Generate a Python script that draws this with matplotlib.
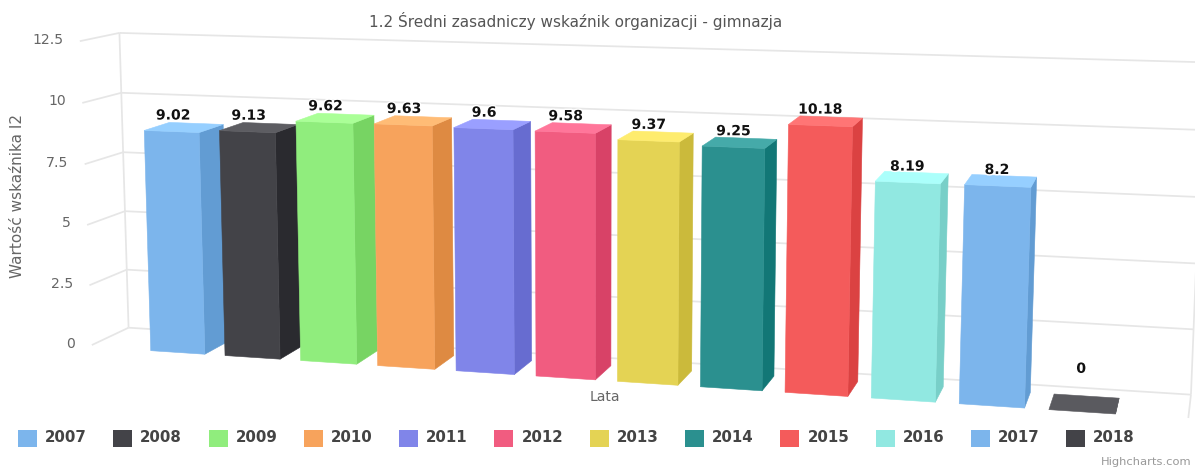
import numpy as np
import matplotlib
matplotlib.use('Agg')
import matplotlib.pyplot as plt
import matplotlib.patheffects as pe

# ---- data ----
years = ['2007','2008','2009','2010','2011','2012','2013','2014','2015','2016','2017','2018']
values = [9.02,9.13,9.62,9.63,9.6,9.58,9.37,9.25,10.18,8.19,8.2,0]
value_labels = ['9.02','9.13','9.62','9.63','9.6','9.58','9.37','9.25','10.18','8.19','8.2','0']
colors = ['#7cb5ec','#434348','#90ed7d','#f7a35c','#8085e9','#f15c80','#e4d354','#2b908f','#f45b5b','#91e8e1','#7cb5ec','#434348']
y_ticks = [0,2.5,5,7.5,10,12.5]
y_tick_labels = ['0','2.5','5','7.5','10','12.5']
title = '1.2 Średni zasadniczy wskaźnik organizacji - gimnazja'
y_title = 'Wartość wskaźnika I2'
x_title = 'Lata'

# ---- 3D scale: (category, value, depth) -> picture pixels ----
CAMERA = np.array([
    [72.16423136869126, -0.9527273437425413, 28.60380581727985, 140.83874001809755],
    [1.6877836240737953, -24.595997969490604, -5.125578167877667, 350.0237227683511],
    [-0.008948735925047585, -0.0016083746400642489, 0.022684025827068344, 1.0]])
BAR_W = 0.73
U_L, U_R = -0.70, 12.65
D_F, D_B = 0.12, 1.52
D_F_RIGHT = 0.05

def proj(u, v, d):
    h = CAMERA @ np.array([u, v, d, 1.0])
    return h[0]/h[2], h[1]/h[2]

def px(n):
    return n*0.72

def shade(c, f):
    r = np.array(matplotlib.colors.to_rgb(c)) + f
    return tuple(np.clip(r, 0, 1))

fig = plt.figure(figsize=(11.95, 4.68), dpi=100)
ax = fig.add_axes([0, 0, 1, 1])
ax.set_xlim(0, 1195); ax.set_ylim(468, 0); ax.axis('off')

GRID = '#e6e6e6'
def seg(a, b):
    ax.plot([a[0], b[0]], [a[1], b[1]], color=GRID, lw=1.25, solid_capstyle='butt', zorder=1)

for t, lab in zip(y_ticks, y_tick_labels):
    back_l = proj(U_L, t, D_B)
    front_l = proj(U_L - 0.015 - 0.002*t, t, D_F)
    seg(front_l, back_l)
    seg(back_l, proj(U_R, t, D_B))
    ax.text(front_l[0]-16.5, front_l[1]-1.5, lab, ha='right', va='center',
            fontsize=px(14), color='#666666', zorder=2)
seg(proj(U_L, 0, D_B), proj(U_L, 12.5, D_B))
seg(proj(U_R, 0, D_B), proj(U_R, 12.5, D_B))
seg(proj(U_R, 0, D_B), proj(U_R, 0, D_F_RIGHT))

def face(pts, col, z):
    xy = [proj(*p) for p in pts]
    ax.fill([p[0] for p in xy], [p[1] for p in xy], facecolor=col, edgecolor=col,
            lw=0.4, joinstyle='round', zorder=z)

for i, (v, c, lab) in enumerate(zip(values, colors, value_labels)):
    a, b = i+.5-BAR_W/2, i+.5+BAR_W/2
    z = 3 + i*0.01
    face([(b,0,0),(b,0,1),(b,v,1),(b,v,0)], shade(c, -0.1), z)
    if v > 0:
        face([(a,0,0),(b,0,0),(b,v,0),(a,v,0)], c, z+0.001)
        face([(a,v,0),(b,v,0),(b,v,1),(a,v,1)], shade(c, 0.1), z+0.002)
    else:
        face([(a,v,0),(b,v,0),(b,v,1),(a,v,1)], '#5a5a5f', z+0.002)
    lx = proj(i+.5, v, 0.12)[0]
    ly = (proj(a,v,0)[1]+proj(b,v,0)[1])/2
    off = 16 if v > 0 else 43
    ax.text(lx-1.5, ly-off, lab, ha='center', va='center', fontsize=px(14), fontweight='bold',
            color='#111111', zorder=5,
            path_effects=[pe.withStroke(linewidth=2, foreground='white')])

ax.text(575.5, 21, title, ha='center', va='center', fontsize=px(15.3), color='#555555', zorder=6)
ax.text(17.5, 196, y_title, ha='center', va='center', rotation=90, fontsize=px(15.3), color='#666666', zorder=6)
ax.text(605, 397, x_title, ha='center', va='center', fontsize=px(14), color='#666666', zorder=6)
ax.text(1191.5, 462, 'Highcharts.com', ha='right', va='center', fontsize=px(11.5), color='#999999', zorder=6)

for i, (y, c) in enumerate(zip(years, colors)):
    x = 18 + i*95.3
    ax.fill([x, x+19, x+19, x], [430, 430, 447, 447], facecolor=c, edgecolor='none', zorder=6)
    ax.text(x+27, 438, y, ha='left', va='center', fontsize=px(15), fontweight='bold', color='#444444', zorder=6)

fig.savefig('out.png', dpi=100)
